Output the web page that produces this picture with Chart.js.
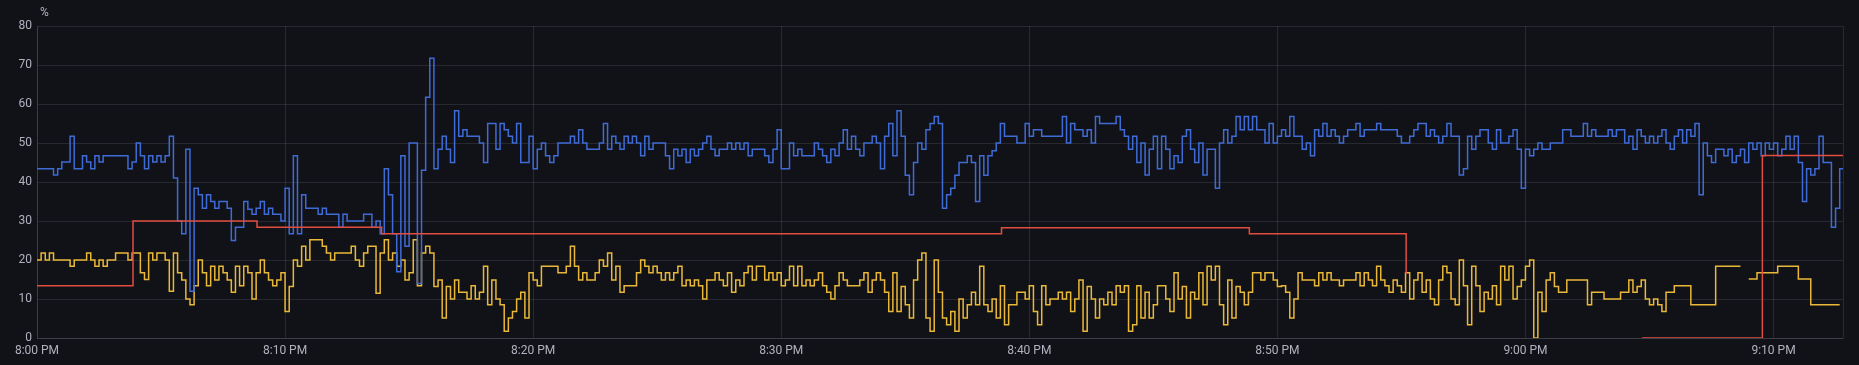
<!DOCTYPE html>
<html>
<head>
<meta charset="utf-8">
<script src="https://cdn.jsdelivr.net/npm/chart.js@4.4.0/dist/chart.umd.min.js"></script>
<style>
  html, body { margin: 0; padding: 0; background: #111217; overflow: hidden; }
  canvas { display: block; }
</style>
</head>
<body>
<canvas id="chart" width="1859" height="365"></canvas>
<script>
// minutes after 8:00 PM, samples every 10 seconds
const sampleMinutes = 1 / 6;
const xMax = 72.8;
const xTickMinutes = [0, 10, 20, 30, 40, 50, 60, 70];
const xTickLabels = ['8:00 PM', '8:10 PM', '8:20 PM', '8:30 PM', '8:40 PM', '8:50 PM', '9:00 PM', '9:10 PM'];

const blueSeries = [
  43.4, 43.4, 43.4, 43.4, 41.8, 43.4, 45.1, 45.1, 51.7, 43.4,
  43.4, 46.7, 45.1, 43.4, 46.7, 45.1, 46.7, 46.7, 46.7, 46.7,
  46.7, 46.7, 43.4, 45.1, 50, 46.7, 43.4, 46.7, 45.1, 46.7,
  45.1, 46.7, 51.7, 41, 30, 26.7, 48.4, 12, 38.4, 36.7,
  33.3, 36.7, 35, 33.3, 35, 35, 33.3, 25, 28.4, 28.4,
  35, 33, 31.7, 33.3, 35, 31.7, 33.3, 31.7, 31.7, 30,
  38.4, 26.7, 46.7, 26.7, 36.7, 33.3, 33.3, 33.3, 31.7, 33.3,
  31.7, 31.7, 31.7, 28.4, 31.7, 30, 30, 30, 30, 31.7,
  31.7, 28.4, 30, 26.7, 43.4, 36.7, 26.7, 17, 46.7, 23.5,
  50, 50, 14, 43, 61.7, 71.7, 43.4, 48.4, 51.7, 48.4,
  45, 58.3, 51.7, 53.4, 51.7, 51.7, 51.7, 50, 45, 55,
  55, 48.4, 55, 53.4, 51.7, 50, 55, 45, 45, 51.7,
  43.4, 48.4, 50, 46.7, 45, 46.7, 50, 50, 50, 51.7,
  50, 53.4, 50, 48.4, 48.4, 48.4, 50, 55, 48.4, 51.7,
  50, 48.4, 51.7, 50, 51.7, 50, 46.7, 51.7, 48.4, 50,
  50, 50, 46.7, 43.4, 48.4, 46.7, 48.4, 45, 48.4, 46.7,
  48.4, 50, 51.7, 48.4, 46.7, 48.4, 48.4, 50, 48.4, 50,
  48.4, 50, 46.7, 48.4, 48.4, 48.4, 46.7, 45, 48.4, 53.4,
  43.4, 43.4, 50, 46.7, 48.4, 46.7, 46.7, 46.7, 50, 48.4,
  46.7, 45, 48.4, 46.7, 50, 53.4, 48.4, 51.7, 48.4, 46.7,
  50, 50, 51.7, 50, 43.4, 51.7, 55, 46.7, 58.3, 51.7,
  41.7, 36.7, 45, 50, 48.4, 53.4, 55, 56.8, 55, 33.3,
  36.7, 38.4, 41.7, 45, 45, 46.7, 45, 35, 46.7, 41.7,
  46.7, 48, 50, 55, 51.7, 51.7, 51.7, 50, 50, 55,
  51.7, 53.4, 53.4, 51.7, 51.7, 51.7, 51.7, 51.7, 56.8, 50,
  55, 53.4, 53.4, 51.7, 53.4, 50, 56.8, 55, 55, 55,
  55, 56.8, 53.4, 51.7, 48.4, 51.7, 45, 50, 41.8, 48.4,
  51.7, 43.4, 51.7, 48.4, 43.4, 46.7, 45, 51.7, 53.4, 48.4,
  45, 50, 41.8, 48.4, 48.4, 38.4, 50, 53.4, 50, 51.7,
  56.8, 53.4, 56.8, 53.4, 56.8, 53.4, 53.4, 50, 55, 50,
  51.7, 53.4, 51.7, 56.8, 51.7, 51.7, 48.4, 50, 46.7, 53.4,
  51.7, 55, 51.7, 53.4, 51.7, 50, 51.7, 53.4, 53.4, 55,
  51.7, 53.4, 53.4, 53.4, 55, 53.4, 53.4, 53.4, 53.4, 51.7,
  50, 50, 51.7, 53.4, 55, 55, 51.7, 53.4, 51.7, 50,
  51.7, 55, 51.7, 51.7, 41.8, 43.4, 51.7, 48.4, 51.7, 53.4,
  53.4, 50, 48.4, 53.4, 50, 50, 51.7, 53.4, 48.4, 38.4,
  48.4, 46.7, 48.4, 50, 48.4, 48.4, 50, 50, 50, 53.4,
  53.4, 51.7, 51.7, 51.7, 55, 51.7, 53.4, 51.7, 51.7, 51.7,
  53.4, 51.7, 53.4, 53.4, 50, 51.7, 48.4, 53.4, 51.7, 50,
  51.7, 50, 51.7, 53.4, 50, 48.4, 51.7, 53.4, 50, 53.4,
  51.7, 55, 36.7, 50, 46.7, 45, 48.4, 48.4, 46.7, 48.4,
  45, 46.7, 48.4, 45, 50, 48.4, 50, 46.7, 50, 48.4,
  50, 46.7, 48.4, 51.7, 48.4, 51.7, 45, 35, 43.4, 41.8,
  43.4, 51.7, 45, 45, 28.4, 33.3, 43.4, 43.4
];

const yellowSeries = [
  20, 21.8, 20, 21.8, 20, 20, 20, 20, 18.4, 20,
  20, 20, 21.8, 20, 18.4, 20, 18.4, 20, 20, 21.8,
  21.8, 21.8, 20, 21.8, 21.8, 16.7, 15, 21.8, 20, 21.8,
  21.8, 20, 12, 21.8, 16.7, 14.9, 10, 8.5, 13.4, 20,
  16.7, 13.4, 18.4, 14.9, 18.4, 16.7, 14.9, 11.7, 18.4, 13.4,
  18.4, 16.7, 10, 16.7, 20, 16.7, 14.9, 13.4, 14.9, 16.7,
  6.8, 13.2, 20, 18.4, 23.5, 20, 25.2, 25.2, 25.2, 23.5,
  21.8, 20, 21.8, 21.8, 21.8, 21.8, 23.5, 20, 18.4, 21.8,
  23.5, 23.5, 11.5, 21.8, 25.2, 20, 21.8, 18.4, 20, 14.9,
  16.7, 25.2, 13.4, 21.8, 23.5, 21.8, 13.2, 14.9, 5.1, 13.2,
  10, 14.9, 11.7, 11.7, 10, 13.4, 10, 11.7, 18.4, 8.5,
  14.9, 10, 8.5, 1.7, 5.1, 6.8, 10, 11.7, 5.1, 16.7,
  14.9, 13.4, 18.4, 18.4, 18.4, 18.4, 16.7, 16.7, 18.4, 23.5,
  18.4, 14.9, 16.7, 14.9, 14.9, 16.7, 20, 18.4, 21.8, 14.9,
  18.4, 11.7, 13.4, 13.4, 13.4, 16.7, 20, 18.4, 16.7, 18.4,
  16.7, 14.9, 16.7, 14.9, 16.7, 18.4, 13.4, 14.9, 13.4, 14.9,
  13.4, 10, 14.9, 14.9, 16.7, 14.9, 13.4, 16.7, 11.7, 14.9,
  13.4, 16.7, 18.4, 14.9, 18.4, 18.4, 14.9, 16.7, 14.9, 16.7,
  13.4, 14.9, 18.4, 13.4, 18.4, 13.4, 14.9, 13.4, 14.9, 16.7,
  13.4, 11.7, 10, 13.4, 16.7, 14.9, 13.4, 13.4, 13.4, 14.9,
  16.7, 11.7, 14.9, 16.7, 14.9, 11.7, 6.8, 16.7, 6.8, 13.2,
  8.5, 5.1, 14.9, 20, 21.8, 5.1, 1.7, 20, 11.7, 5.1,
  3.4, 6.8, 1.7, 10, 5.1, 8.5, 11.7, 8.5, 18.4, 8.5,
  6.8, 10, 5.1, 13.4, 3.4, 8.5, 8.5, 11.7, 11.7, 10,
  13.4, 6.8, 3.4, 13.4, 8.5, 10, 10, 11.7, 10, 11.7,
  6.8, 10, 14.9, 1.7, 13.2, 10, 5.1, 10, 8.5, 11.7,
  8.5, 13.4, 11.7, 13.4, 1.7, 3.4, 13.4, 5.1, 11.7, 5.1,
  8.5, 13.4, 13.4, 10, 6.8, 16.7, 10, 13.2, 5.1, 11.7,
  10, 16.7, 8.5, 18.4, 14.9, 18.4, 8.5, 3.4, 14.9, 5.1,
  13.2, 11.7, 8.5, 11.7, 16.7, 16.7, 14.9, 16.7, 16.7, 14.9,
  13.2, 13.4, 11.7, 5.1, 10, 16.7, 14.9, 14.9, 14.9, 13.4,
  16.7, 14.9, 16.7, 14.9, 14.9, 13.4, 14.9, 14.9, 14.9, 16.7,
  13.4, 16.7, 14.9, 13.4, 18.4, 14.9, 13.4, 11.7, 14.9, 13.4,
  11.7, 16.7, 10, 14.9, 16.7, 11.7, 14.9, 10, 8.5, 14.9,
  18.4, 16.7, 10, 8.5, 20, 13.4, 3.4, 18.4, 13.4, 6.8,
  11.7, 10, 13.4, 8.5, 18.4, 14.9, 18.4, 10, 13.2, 14.9,
  18.4, 20, 0, 11.7, 6.8, 14.9, 16.7, 13.2, 11.7, 11.7,
  14.9, 14.9, 14.9, 14.9, 14.9, 8.5, 11.7, 11.7, 11.7, 10,
  10, 10, 10, 11.7, 11.7, 14.9, 11.7, 13.2, 14.9, 10,
  8.5, 10, 8.5, 6.8, 11.7, 11.7, 13.4, 13.4, 13.4, 13.4,
  8.5, 8.5, 8.5, 8.5, 8.5, 8.5, 18.4, 18.4, 18.4, 18.4,
  18.4, 18.4, 18.4, null, 15.1, 15.1, 16.7, 16.7, 16.7, 16.7,
  16.7, 18.4, 18.4, 18.4, 18.4, 18.4, 15.1, 15.1, 15.1, 8.5,
  8.5, 8.5, 8.5, 8.5, 8.5, 8.5, 8.5, null
];

// red series only changes a few times, so keep its own timestamps
const redMinutes = [0, 3.87, 8.87, 13.89, 38.88, 48.87, 55.19, 55.2, 64.7, 69.55, 72.8];
const redSeries = [13.4, 30, 28.4, 26.7, 28.3, 26.7, 16.5, null, 0, 46.8, 46.8];

const gridColor = 'rgba(204, 204, 220, 0.13)';
const textColor = 'rgba(204, 204, 220, 0.85)';
const fontFamily = 'Roboto, "Noto Sans", sans-serif';

const toPoints = (values) => values.map((v, i) => ({ x: i * sampleMinutes, y: v }));

// small plugin for the unit label above the y axis
const unitLabel = {
    id: 'unitLabel',
    afterDraw(chart) {
        const ctx = chart.ctx;
        ctx.save();
        ctx.fillStyle = textColor;
        ctx.font = '12px ' + fontFamily;
        ctx.textAlign = 'left';
        ctx.textBaseline = 'middle';
        ctx.fillText('%', chart.chartArea.left + 3, 13);
        ctx.restore();
    }
};

// 'before' keeps each value flat until the next sample (staircase)
const stepMode = 'before';

new Chart(document.getElementById('chart'), {
    type: 'line',
    data: {
        datasets: [
            {
                label: 'red',
                data: redMinutes.map((t, i) => ({ x: t, y: redSeries[i] })),
                borderColor: '#E24D42',
                borderWidth: 1.5,
                stepped: stepMode,
                pointRadius: 0,
                spanGaps: false
            },
            {
                label: 'blue',
                data: toPoints(blueSeries),
                borderColor: '#3e6bd6',
                borderWidth: 1.5,
                stepped: stepMode,
                pointRadius: 0,
                spanGaps: false
            },
            {
                label: 'yellow',
                data: toPoints(yellowSeries),
                borderColor: '#EAB839',
                borderWidth: 1.5,
                stepped: stepMode,
                pointRadius: 0,
                spanGaps: false
            }
        ]
    },
    options: {
        responsive: false,
        animation: false,
        events: [],
        layout: { padding: { top: 26, right: 16, left: 0, bottom: 0 } },
        scales: {
            x: {
                type: 'linear',
                min: 0,
                max: xMax,
                afterBuildTicks: (scale) => {
                    scale.ticks = xTickMinutes.concat([xMax]).map(v => ({ value: v }));
                },
                afterFit: (scale) => { scale.height = 27; },
                grid: { color: gridColor, drawTicks: false },
                border: { color: gridColor },
                ticks: {
                    autoSkip: false,
                    maxRotation: 0,
                    padding: 6,
                    color: textColor,
                    font: { family: fontFamily, size: 12 },
                    callback: (value, index) => index < xTickLabels.length ? xTickLabels[index] : ''
                }
            },
            y: {
                min: 0,
                max: 80,
                afterFit: (scale) => { scale.width = 37; },
                grid: { color: gridColor, drawTicks: false },
                border: { color: gridColor },
                ticks: {
                    stepSize: 10,
                    padding: 5,
                    color: textColor,
                    font: { family: fontFamily, size: 12 }
                }
            }
        },
        plugins: {
            legend: { display: false },
            tooltip: { enabled: false }
        }
    },
    plugins: [unitLabel]
});
</script>
</body>
</html>
